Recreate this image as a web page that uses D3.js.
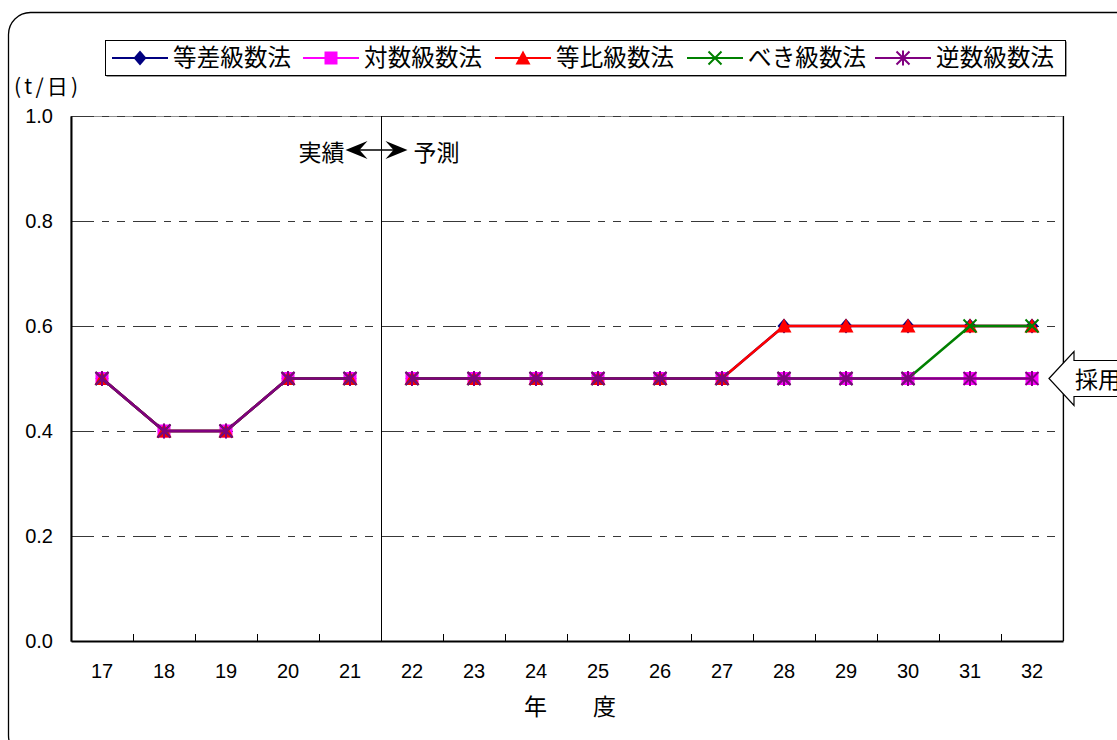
<!DOCTYPE html>
<html>
<head>
<meta charset="utf-8">
<script src="https://cdn.jsdelivr.net/npm/d3@7"></script>
<style>
  html, body { margin: 0; padding: 0; background: #fff; }
  svg { display: block; }
  .jp { font-family: "Noto Sans CJK JP", "Noto Sans", sans-serif; }
</style>
</head>
<body>
<script>
// Fiscal years (Heisei) on the horizontal axis
const categories = ['17','18','19','20','21','22','23','24','25','26','27','28','29','30','31','32'];
// Recorded values for 17–21 (shared by every method)
const actualValues = [0.5, 0.4, 0.4, 0.5, 0.5];
// Forecast values for 22–32 by method
const arithmeticForecast  = [0.5, 0.5, 0.5, 0.5, 0.5, 0.5, 0.6, 0.6, 0.6, 0.6, 0.6];
const logarithmicForecast = [0.5, 0.5, 0.5, 0.5, 0.5, 0.5, 0.5, 0.5, 0.5, 0.5, 0.5];
const geometricForecast   = [0.5, 0.5, 0.5, 0.5, 0.5, 0.5, 0.6, 0.6, 0.6, 0.6, 0.6];
const powerForecast       = [0.5, 0.5, 0.5, 0.5, 0.5, 0.5, 0.5, 0.5, 0.5, 0.6, 0.6];
const reciprocalForecast  = [0.5, 0.5, 0.5, 0.5, 0.5, 0.5, 0.5, 0.5, 0.5, 0.5, 0.5];
const seriesNames = ['等差級数法', '対数級数法', '等比級数法', 'べき級数法', '逆数級数法'];
const yTicks = [0, 0.2, 0.4, 0.6, 0.8, 1.0];

const seriesStyles = [
  { color: '#000080', marker: 'diamond' },
  { color: '#FF00FF', marker: 'square' },
  { color: '#FF0000', marker: 'triangle' },
  { color: '#008000', marker: 'cross' },
  { color: '#800080', marker: 'asterisk' }
];
const forecasts = [arithmeticForecast, logarithmicForecast, geometricForecast, powerForecast, reciprocalForecast];
const series = seriesNames.map((name, i) => ({
  name,
  ...seriesStyles[i],
  values: actualValues.concat(forecasts[i])
}));
const nActual = actualValues.length;

const W = 1117, H = 740;
const plot = { left: 71, right: 1063, top: 116, bottom: 641 };
const numFont = '"Liberation Sans", Arial, sans-serif';

const svg = d3.select('body').append('svg').attr('width', W).attr('height', H);

// Outer rounded frame
svg.append('rect')
  .attr('x', 8.5).attr('y', 12.5).attr('width', 1130).attr('height', 745)
  .attr('rx', 22).attr('ry', 22)
  .attr('fill', '#fff').attr('stroke', '#000').attr('stroke-width', 1.3);

const x = d3.scaleBand().domain(categories).range([plot.left, plot.right]).paddingInner(0).paddingOuter(0);
const y = d3.scaleLinear().domain([0, 1]).range([plot.bottom, plot.top]);
const cx = c => x(c) + x.bandwidth() / 2;

// Plot area frame
svg.append('rect')
  .attr('x', plot.left).attr('y', plot.top + 0.5)
  .attr('width', plot.right - plot.left).attr('height', plot.bottom - plot.top)
  .attr('fill', 'none').attr('stroke', '#909090').attr('stroke-width', 1);
svg.append('line')
  .attr('x1', plot.right + 0.5).attr('x2', plot.right + 0.5)
  .attr('y1', plot.top).attr('y2', plot.bottom)
  .attr('stroke', '#000').attr('stroke-width', 1.2);

// Horizontal dash-dot gridlines
svg.append('g').selectAll('line').data(yTicks.filter(d => d > 0)).join('line')
  .attr('x1', plot.left).attr('x2', plot.right)
  .attr('y1', d => Math.round(y(d)) + 0.5).attr('y2', d => Math.round(y(d)) + 0.5)
  .attr('stroke', '#383838').attr('stroke-width', 1.2)
  .attr('stroke-dasharray', '23,8,7,8,8,8');

// Y axis
const yAxis = svg.append('g')
  .attr('transform', `translate(${plot.left},0)`)
  .call(d3.axisLeft(y).tickValues(yTicks).tickFormat(d3.format('.1f')).tickSize(0).tickPadding(18));
yAxis.select('.domain').attr('stroke', '#000').attr('stroke-width', 2);
yAxis.selectAll('text').attr('font-size', 20).attr('fill', '#000').attr('font-family', numFont);

// X axis
const xAxis = svg.append('g')
  .attr('transform', `translate(0,${plot.bottom})`)
  .call(d3.axisBottom(x).tickSize(0).tickPadding(23));
xAxis.select('.domain').attr('stroke', '#000').attr('stroke-width', 2);
xAxis.selectAll('text').attr('font-size', 20).attr('fill', '#000').attr('font-family', numFont);

// Category boundary tick marks (pointing inside)
svg.append('g').selectAll('line').data(categories.slice(1)).join('line')
  .attr('x1', d => Math.round(x(d)) + 0.5).attr('x2', d => Math.round(x(d)) + 0.5)
  .attr('y1', plot.bottom).attr('y2', plot.bottom - 7)
  .attr('stroke', '#000').attr('stroke-width', 1);

// Divider between recorded and forecast years
const divX = Math.round(x(categories[nActual])) + 0.5;
svg.append('line')
  .attr('x1', divX).attr('x2', divX)
  .attr('y1', plot.top).attr('y2', plot.bottom)
  .attr('stroke', '#000').attr('stroke-width', 1);

// 実績 ←→ 予測 annotation
const annY = 150;
svg.append('line')
  .attr('x1', divX - 28).attr('x2', divX + 18)
  .attr('y1', annY).attr('y2', annY)
  .attr('stroke', '#000').attr('stroke-width', 1.3);
const headL = divX - 36, headR = divX + 26;
svg.append('path')
  .attr('d', `M${headL},${annY} L${headL + 22},${annY - 9} L${headL + 14},${annY} L${headL + 22},${annY + 9} Z`)
  .attr('fill', '#000');
svg.append('path')
  .attr('d', `M${headR},${annY} L${headR - 22},${annY - 9} L${headR - 14},${annY} L${headR - 22},${annY + 9} Z`)
  .attr('fill', '#000');
svg.append('text').attr('class', 'jp')
  .attr('x', headL - 1).attr('y', annY + 3).attr('dy', '0.35em')
  .attr('text-anchor', 'end').attr('font-size', 23).attr('fill', '#000')
  .text('実績');
svg.append('text').attr('class', 'jp')
  .attr('x', headR + 6).attr('y', annY + 3).attr('dy', '0.35em')
  .attr('text-anchor', 'start').attr('font-size', 23).attr('fill', '#000')
  .text('予測');

// Marker drawing
function drawMarker(g, type, color, size) {
  const s = size / 2;
  if (type === 'diamond') {
    g.append('path').attr('d', `M0,${-s - 1} L${s},0 L0,${s + 1} L${-s},0 Z`).attr('fill', color);
  } else if (type === 'square') {
    g.append('rect').attr('x', -s).attr('y', -s).attr('width', size).attr('height', size).attr('fill', color);
  } else if (type === 'triangle') {
    g.append('path').attr('d', `M0,${-s - 1} L${s + 1},${s} L${-s - 1},${s} Z`).attr('fill', color);
  } else if (type === 'cross') {
    g.append('path').attr('d', `M${-s},${-s} L${s},${s} M${s},${-s} L${-s},${s}`)
      .attr('stroke', color).attr('stroke-width', 2).attr('fill', 'none');
  } else if (type === 'asterisk') {
    g.append('path').attr('d', `M${-s},${-s} L${s},${s} M${s},${-s} L${-s},${s} M0,${-s - 1} L0,${s + 1}`)
      .attr('stroke', color).attr('stroke-width', 2).attr('fill', 'none');
  }
}

// Series lines and markers; recorded and forecast parts are drawn as separate segments
const line = d3.line().x(d => cx(d.cat)).y(d => y(d.v));
const gSeries = svg.append('g');
series.forEach(s => {
  const pts = s.values.map((v, i) => ({ cat: categories[i], v, i }));
  const g = gSeries.append('g');
  [pts.slice(0, nActual), pts.slice(nActual)].forEach(seg => {
    g.append('path').attr('d', line(seg))
      .attr('fill', 'none').attr('stroke', s.color).attr('stroke-width', 2.5)
      .attr('stroke-linejoin', 'round');
  });
  pts.forEach(p => {
    const m = g.append('g').attr('transform', `translate(${cx(p.cat)},${y(p.v)})`);
    drawMarker(m, s.marker, s.color, 13);
  });
});

// 採用 callout arrow pointing at the adopted level
const tipX = plot.right - 14, tipY = y(0.5);
svg.append('path')
  .attr('d', `M${tipX},${tipY} L${tipX + 25},${tipY - 27} L${tipX + 25},${tipY - 18} L${W + 20},${tipY - 18} L${W + 20},${tipY + 18} L${tipX + 25},${tipY + 18} L${tipX + 25},${tipY + 27} Z`)
  .attr('fill', '#fff').attr('stroke', '#000').attr('stroke-width', 1.2);
svg.append('text').attr('class', 'jp')
  .attr('x', tipX + 26).attr('y', tipY + 1).attr('dy', '0.35em')
  .attr('font-size', 23).attr('fill', '#000')
  .text('採用');

// Legend
const legend = svg.append('g');
legend.append('rect').attr('x', 106.5).attr('y', 41.5).attr('width', 960).attr('height', 35)
  .attr('fill', '#333');
legend.append('rect').attr('x', 105.5).attr('y', 40.5).attr('width', 960).attr('height', 35)
  .attr('fill', '#fff').attr('stroke', '#000').attr('stroke-width', 1);
const legendStarts = [112, 303, 495, 687, 875];
const legY = 58;
series.forEach((s, i) => {
  const x0 = legendStarts[i];
  const g = legend.append('g');
  g.append('line').attr('x1', x0).attr('x2', x0 + 56).attr('y1', legY).attr('y2', legY)
    .attr('stroke', s.color).attr('stroke-width', 2.2);
  const m = g.append('g').attr('transform', `translate(${x0 + 28},${legY})`);
  drawMarker(m, s.marker, s.color, 13);
  g.append('text').attr('class', 'jp')
    .attr('x', x0 + 61).attr('y', legY).attr('dy', '0.36em')
    .attr('font-size', 23.5).attr('fill', '#000')
    .attr('textLength', 118).attr('lengthAdjust', 'spacing')
    .text(s.name);
});

// Unit label and axis title
svg.append('text').attr('class', 'jp')
  .attr('x', 14).attr('y', 87).attr('dy', '0.35em')
  .attr('font-size', 21).attr('fill', '#000')
  .attr('textLength', 64).attr('lengthAdjust', 'spacing')
  .text('(t/日)');
svg.append('text').attr('class', 'jp')
  .attr('x', 570).attr('y', 707).attr('dy', '0.35em')
  .attr('text-anchor', 'middle').attr('font-size', 23).attr('fill', '#000')
  .text('年　　度');
</script>
</body>
</html>
